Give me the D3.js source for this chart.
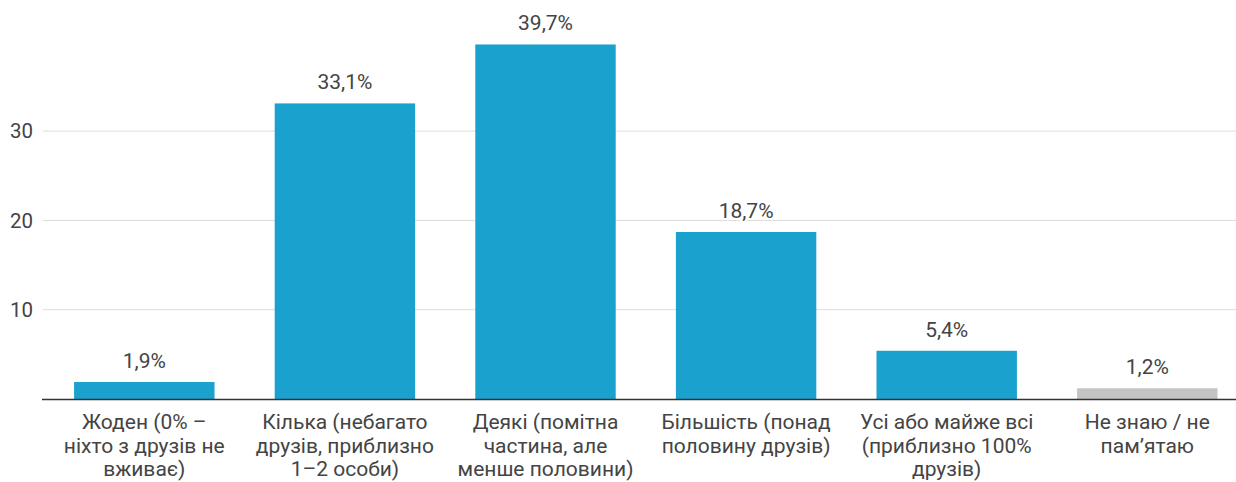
<!DOCTYPE html>
<html><head><meta charset="utf-8">
<script src="https://cdn.jsdelivr.net/npm/d3@7"></script>
<style>body{margin:0;background:#fff}svg{display:block;font-family:Roboto,sans-serif}</style>
</head><body><svg id="c" width="1236" height="482"></svg>
<script>
const categories = [
  ["Жоден (0% –", "ніхто з друзів не", "вживає)"],
  ["Кілька (небагато", "друзів, приблизно", "1–2 особи)"],
  ["Деякі (помітна", "частина, але", "менше половини)"],
  ["Більшість (понад", "половину друзів)"],
  ["Усі або майже всі", "(приблизно 100%", "друзів)"],
  ["Не знаю / не", "пам’ятаю"]
];
const values = [1.9, 33.1, 39.7, 18.7, 5.4, 1.2];
const valueLabels = ["1,9%", "33,1%", "39,7%", "18,7%", "5,4%", "1,2%"];
const barColors = ["#1aa1cd","#1aa1cd","#1aa1cd","#1aa1cd","#1aa1cd","#c4c4c4"];
const yTicks = [10, 20, 30];

const svg = d3.select("#c");
const left = 43, right = 1236, baseY = 399;
const y = d3.scaleLinear().domain([0, 10]).range([baseY, baseY - 89.3]);
const x = d3.scaleBand().domain(d3.range(values.length)).range([44, 1247.6]).paddingInner(0.3).paddingOuter(0.15);

// grid
svg.append("g").selectAll("line").data(yTicks).join("line")
  .attr("x1", left).attr("x2", right).attr("y1", d => y(d)).attr("y2", d => y(d))
  .attr("stroke", "#dcdcdc").attr("stroke-width", 1);
svg.append("g").selectAll("text").data(yTicks).join("text")
  .attr("x", 33).attr("y", d => y(d)).attr("dy", "0.35em").attr("text-anchor", "end")
  .attr("font-size", 20.5).attr("fill", "#444").text(d => d);

// bars
svg.append("g").selectAll("rect").data(values).join("rect")
  .attr("x", (d, i) => x(i)).attr("width", x.bandwidth())
  .attr("y", d => y(d)).attr("height", d => baseY - y(d))
  .attr("fill", (d, i) => barColors[i]);

// baseline
svg.append("line").attr("x1", 42).attr("x2", right).attr("y1", baseY + 0.5).attr("y2", baseY + 0.5)
  .attr("stroke", "#333").attr("stroke-width", 1.3);

// value labels
svg.append("g").selectAll("text").data(values).join("text")
  .attr("x", (d, i) => x(i) + x.bandwidth() / 2).attr("y", d => y(d) - 14)
  .attr("text-anchor", "middle").attr("font-size", 21).attr("fill", "#444")
  .attr("stroke", "#fff").attr("stroke-width", 4).attr("paint-order", "stroke")
  .text((d, i) => valueLabels[i]);

// category labels
const cg = svg.append("g").selectAll("text").data(categories).join("text")
  .attr("text-anchor", "middle").attr("font-size", 21).attr("fill", "#444");
cg.each(function(lines, i) {
  d3.select(this).selectAll("tspan").data(lines).join("tspan")
    .attr("x", x(i) + x.bandwidth() / 2).attr("y", (l, j) => 429 + j * 23.5).text(l => l);
});
</script></body></html>
